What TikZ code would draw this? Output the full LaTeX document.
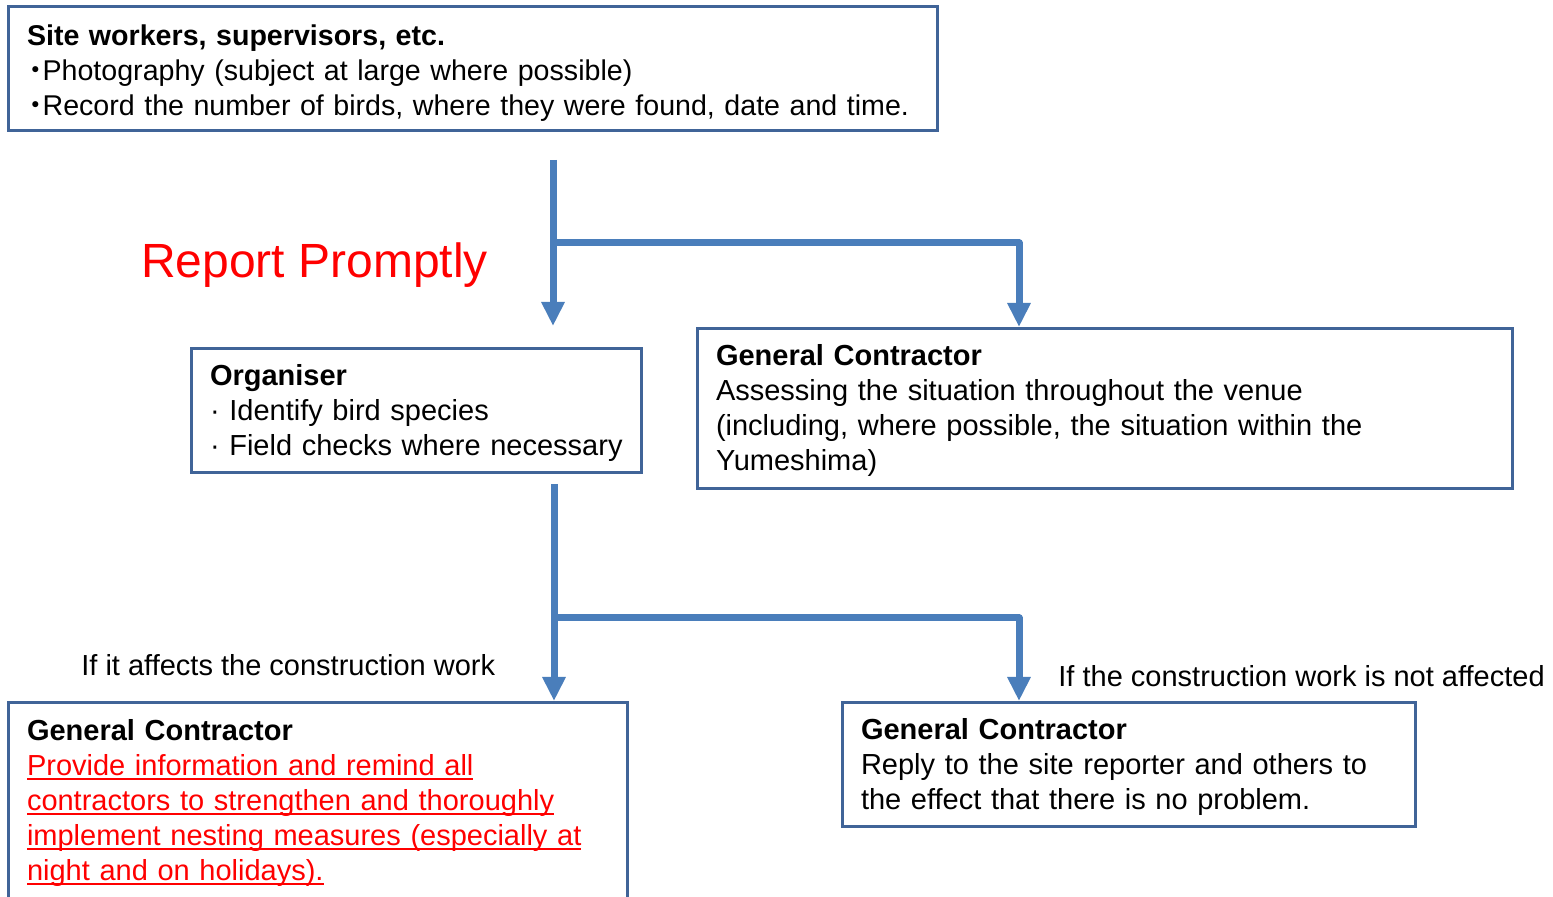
\documentclass[tikz,border=0pt]{standalone}
\usepackage{fontspec}
\setmainfont{Liberation Sans}
\newfontfamily\cjk{Noto Sans CJK JP}
\usetikzlibrary{arrows.meta, positioning, calc}
\definecolor{boxblue}{RGB}{64, 100, 152}
\definecolor{flowblue}{RGB}{74, 126, 187}
\definecolor{alertred}{RGB}{255, 0, 0}
\newdimen\px \px=0.5pt
\newcommand{\jdot}{\hspace{-6\px}{\cjk ・}\hspace{-7\px}}
\newcommand{\redline}[1]{\textcolor{alertred}{\setbox0\hbox{#1}\rlap{\rule[-4\px]{\wd0}{2\px}}\box0}}

\begin{document}
\begin{tikzpicture}[x=1\px, y=-1\px,
  infobox/.style={draw=boxblue, line width=3\px, anchor=north west, align=left, inner xsep=18.5\px, inner ysep=0pt, font=\fontsize{14.5}{17.5}\selectfont},
  textdrop/.style={execute at begin node={\rule{0pt}{#1}}},
  flow/.style={draw=flowblue, line width=3.5pt, line join=round, -{Triangle[width=11pt, length=12pt]}},
  note/.style={anchor=west, inner sep=0pt, font=\fontsize{14.5}{17.5}\selectfont}
]
  \useasboundingbox (0,0) rectangle (1553,897);
  \node[infobox, textdrop=29\px, text width=891.5\px, minimum height=124\px, font=\fontsize{14.3}{17.5}\selectfont] (site) at (7,5) {\textbf{Site workers, supervisors, etc.}\\\jdot Photography (subject at large where possible)\\\jdot Record the number of birds, where they were found, date and time.};
  \node[anchor=center, inner sep=0pt, text=alertred, font=\fontsize{24}{28}\selectfont] (prompt) at (314.5,265) {Report Promptly};
  \node[infobox, textdrop=27\px, text width=413\px, minimum height=124\px] (org) at (190,347) {\textbf{Organiser}\\· Identify bird species\\· Field checks where necessary};
  \node[infobox, textdrop=25\px, text width=778\px, minimum height=160\px] (gc1) at (696,327) {\textbf{General Contractor}\\Assessing the situation throughout the venue\\(including, where possible, the situation within the\\Yumeshima)};
  \node[note] (affect) at (81,665) {If it affects the construction work};
  \node[note] (noaffect) at (1058,676) {If the construction work is not affected};
  \node[infobox, textdrop=23\px, text width=582\px, minimum height=200\px] (gc2) at (7,701) {\textbf{General Contractor}\\\redline{Provide information and remind all}\\\redline{contractors to strengthen and thoroughly}\\\redline{implement nesting measures (especially at}\\\redline{night and on holidays).}};
  \node[infobox, textdrop=27\px, text width=536\px, minimum height=124\px] (gc3) at (841,701) {\textbf{General Contractor}\\Reply to the site reporter and others to\\the effect that there is no problem.};
  \coordinate (s1) at (553,160);
  \coordinate (t1) at (553,326);
  \coordinate (b1) at (1019,243);
  \coordinate (s2) at (554,484);
  \coordinate (b2) at (1019,618);
  \draw[flow] (s1) -- (t1);
  \draw[flow] (s1 |- b1) -- (b1) -- (b1 |- gc1.north);
  \draw[flow] (s2) -- (s2 |- gc2.north);
  \draw[flow] (s2 |- b2) -- (b2) -- (b2 |- gc3.north);
\end{tikzpicture}
\end{document}
